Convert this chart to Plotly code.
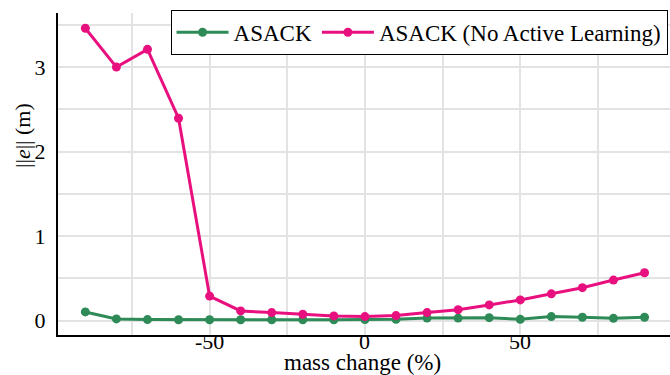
import plotly.graph_objects as go

mass_change = [-90, -80, -70, -60, -50, -40, -30, -20, -10, 0, 10, 20, 30, 40, 50, 60, 70, 80, 90]
asack = [0.103, 0.02, 0.012, 0.01, 0.01, 0.01, 0.01, 0.01, 0.01, 0.012, 0.015, 0.03, 0.03, 0.035, 0.015, 0.048, 0.04, 0.027, 0.04]
asack_no_al = [3.46, 3.00, 3.21, 2.395, 0.29, 0.115, 0.095, 0.076, 0.056, 0.048, 0.06, 0.095, 0.13, 0.186, 0.245, 0.317, 0.39, 0.48, 0.566]

x_ticks = [-50, 0, 50]
y_ticks = [0, 1, 2, 3]

font_family = "Liberation Serif"

fig = go.Figure()
fig.add_trace(go.Scatter(
    x=mass_change, y=asack, mode="lines+markers", name="ASACK",
    line=dict(color="#2e8b57", width=3), marker=dict(size=9, color="#2e8b57"),
))
fig.add_trace(go.Scatter(
    x=mass_change, y=asack_no_al, mode="lines+markers", name="ASACK (No Active Learning)",
    line=dict(color="#e8107f", width=3), marker=dict(size=9, color="#e8107f"),
))

annotations = [
    dict(text=str(v), xref="x", yref="paper", x=v, y=-0.021,
         xanchor="center", yanchor="middle", showarrow=False,
         font=dict(family=font_family, size=22, color="black"))
    for v in x_ticks
]
annotations += [
    dict(text="mass change (%)", xref="paper", yref="paper",
         x=0.497, y=-0.086, xanchor="center", yanchor="middle",
         showarrow=False, font=dict(family=font_family, size=23, color="black")),
    dict(text="||<i>e</i>|| (m)", xref="paper", yref="paper",
         x=-0.059, y=0.621, xanchor="center", yanchor="middle", textangle=-90,
         showarrow=False, font=dict(family=font_family, size=22, color="black")),
]

fig.update_layout(
    width=670, height=375,
    margin=dict(l=58, r=0, t=13, b=40, autoexpand=False),
    plot_bgcolor="white", paper_bgcolor="white",
    font=dict(family=font_family, size=22, color="black"),
    showlegend=True,
    legend=dict(
        orientation="h", x=0.996, xanchor="right", y=1.01, yanchor="top",
        bordercolor="black", borderwidth=1, bgcolor="white",
        font=dict(family=font_family, size=23, color="black"),
        tracegroupgap=0, itemwidth=52,
    ),
    xaxis=dict(
        range=[-98.8, 98.2], tickvals=x_ticks, showticklabels=False,
        showgrid=True, gridcolor="#e3e3e3", gridwidth=2,
        minor=dict(dtick=25, tick0=0, showgrid=True, gridcolor="#e3e3e3", gridwidth=2),
        showline=True, linecolor="black", linewidth=2, zeroline=False, ticks="",
        automargin=False,
    ),
    yaxis=dict(
        range=[-0.17, 3.64], tickvals=y_ticks, ticktext=[str(v) for v in y_ticks],
        showgrid=True, gridcolor="#e3e3e3", gridwidth=2,
        minor=dict(dtick=0.5, tick0=0, showgrid=True, gridcolor="#e3e3e3", gridwidth=2),
        showline=True, linecolor="black", linewidth=2, zeroline=False, ticks="",
        ticklabelstandoff=6,
        automargin=False, tickfont=dict(family=font_family, size=22),
    ),
    annotations=annotations,
)

fig.write_html("out.html")
